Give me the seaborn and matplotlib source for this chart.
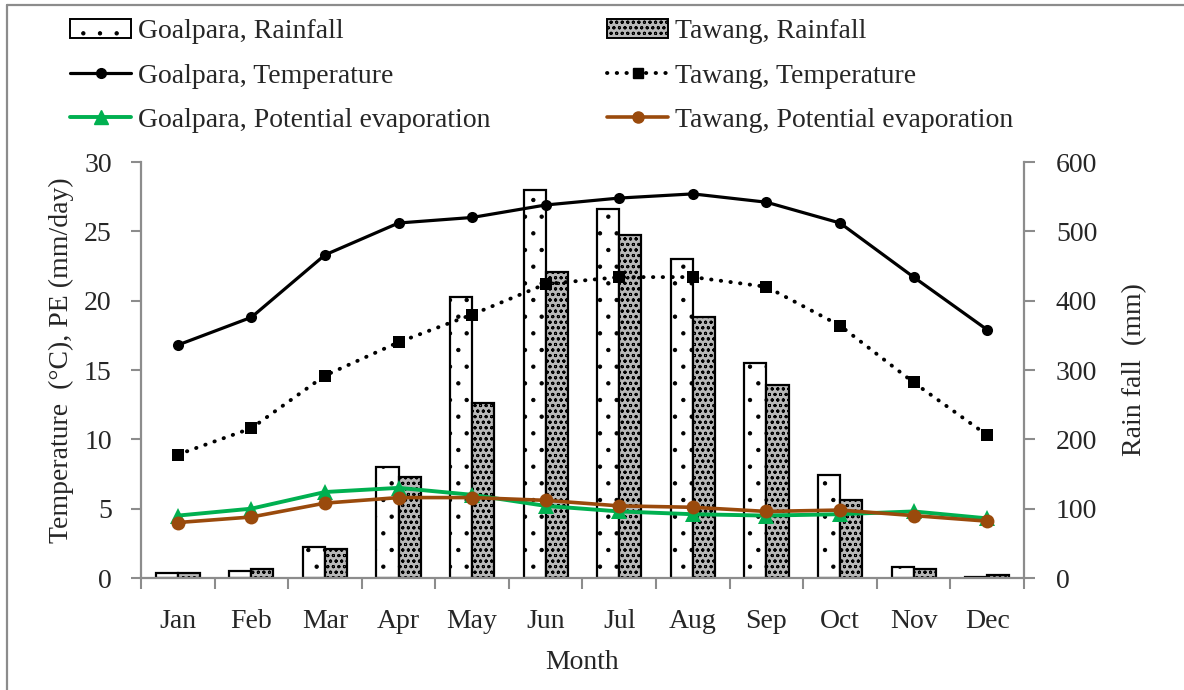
import numpy as np
import pandas as pd
import matplotlib
matplotlib.use("Agg")
import matplotlib.pyplot as plt
from matplotlib.patches import Patch
from matplotlib.lines import Line2D
from matplotlib.ticker import FixedLocator, NullFormatter
import seaborn as sns

# Monthly climate data
months = ["Jan", "Feb", "Mar", "Apr", "May", "Jun",
          "Jul", "Aug", "Sep", "Oct", "Nov", "Dec"]
goalpara_rain = [7, 10, 45, 160, 405, 560, 532, 460, 310, 149, 16, 2]
tawang_rain = [7, 13, 42, 146, 252, 442, 494, 376, 278, 112, 13, 4]
goalpara_temp = [16.8, 18.8, 23.3, 25.6, 26.0, 26.9, 27.4, 27.7, 27.1, 25.6, 21.7, 17.9]
tawang_temp = [8.9, 10.8, 14.6, 17.0, 19.0, 21.2, 21.7, 21.7, 21.0, 18.2, 14.1, 10.3]
goalpara_pe = [4.5, 5.0, 6.2, 6.5, 6.0, 5.2, 4.8, 4.6, 4.5, 4.6, 4.8, 4.3]
tawang_pe = [4.0, 4.4, 5.4, 5.8, 5.8, 5.6, 5.2, 5.1, 4.8, 4.9, 4.5, 4.1]
stations = ["Goalpara", "Tawang"]

sns.set_theme(style="white")
plt.rcParams["font.family"] = ["Liberation Serif", "DejaVu Serif"]
plt.rcParams["hatch.linewidth"] = 0.7

W, H = 1184, 690
fig = plt.figure(figsize=(W / 100, H / 100), dpi=100)
fig.patch.set_facecolor("white")

ax_t = fig.add_axes([141 / W, 1 - 578 / H, (1024 - 141) / W, (578 - 162) / H])
ax_r = ax_t.twinx()
ax_t.set_zorder(ax_r.get_zorder() + 1)
ax_t.patch.set_visible(False)

AX_GRAY = "#8c8c8c"
FS = 20
TAWANG_FILL = "#b8b8b8"
TAWANG_HATCH = "ooo"

# Rainfall bars on the right axis
rain_df = pd.DataFrame({
    "Month": months * 2,
    "Station": [stations[0]] * 12 + [stations[1]] * 12,
    "Rainfall": goalpara_rain + tawang_rain,
})
sns.barplot(data=rain_df, x="Month", y="Rainfall", hue="Station", ax=ax_r,
            width=0.6, gap=0, palette=["white", TAWANG_FILL], saturation=1,
            edgecolor="black", linewidth=1.6, legend=False, errorbar=None)
hatches = [".", TAWANG_HATCH]
for cont, hat in zip(ax_r.containers, hatches):
    for bar in cont:
        bar.set_hatch(hat)

x = np.arange(len(months))
dots = (0, (0.1, 2.4))
sns.lineplot(x=x, y=goalpara_temp, ax=ax_t, color="black", linewidth=2.3,
             marker="o", markersize=8, markeredgewidth=0)
sns.lineplot(x=x, y=tawang_temp, ax=ax_t, color="black", linewidth=2.8,
             linestyle=dots, dash_capstyle="round", marker="s", markersize=8,
             markeredgewidth=0)
sns.lineplot(x=x, y=goalpara_pe, ax=ax_t, color="#00b050", linewidth=2.8,
             marker="^", markersize=11, markeredgewidth=0)
sns.lineplot(x=x, y=tawang_pe, ax=ax_t, color="#9a4a0c", linewidth=2.6,
             marker="o", markersize=10, markeredgewidth=0)

# Axis limits and ticks
ax_t.set_xlim(-0.5, 11.5)
ax_t.set_ylim(0, 30)
ax_r.set_ylim(0, 600)
ax_t.set_yticks(np.arange(0, 31, 5))
ax_r.set_yticks(np.arange(0, 601, 100))
ax_t.set_xticks(x)
ax_t.set_xticklabels(months)
ax_t.xaxis.set_minor_locator(FixedLocator(np.arange(-0.5, 12, 1)))
ax_t.xaxis.set_minor_formatter(NullFormatter())
ax_t.tick_params(axis="x", which="major", length=0, pad=22, labelsize=FS)
ax_t.tick_params(axis="x", which="minor", length=8, width=1.5, color=AX_GRAY,
                 direction="out", bottom=True)
ax_t.tick_params(axis="y", length=7, width=1.5, color=AX_GRAY, pad=14,
                 labelsize=FS, direction="out", left=True)
ax_r.tick_params(axis="y", length=8, width=1.5, color=AX_GRAY, pad=15,
                 labelsize=FS, direction="out", right=True)
ax_r.tick_params(axis="x", length=0)

for s in ["top", "right"]:
    ax_t.spines[s].set_visible(False)
for s in ["top", "left", "bottom"]:
    ax_r.spines[s].set_visible(False)
for sp in [ax_t.spines["left"], ax_t.spines["bottom"], ax_r.spines["right"]]:
    sp.set_color(AX_GRAY)
    sp.set_linewidth(1.6)

ax_r.set_xlabel("")
ax_t.set_xlabel("Month", fontsize=FS, labelpad=12)
ax_t.set_ylabel("Temperature  (°C), PE (mm/day)", fontsize=FS)
ax_t.yaxis.set_label_coords(-0.076, 0.524)
ax_r.set_ylabel("Rain fall  (mm)", fontsize=FS, labelpad=18)

# Legend
handles = [
    Patch(facecolor="white", edgecolor="black", hatch=".", linewidth=1.4),
    Line2D([], [], color="black", lw=2.3, marker="o", markersize=7),
    Line2D([], [], color="#00b050", lw=2.8, marker="^", markersize=10),
    Patch(facecolor=TAWANG_FILL, edgecolor="black", hatch=TAWANG_HATCH,
          linewidth=1.4),
    Line2D([], [], color="black", lw=2.8, linestyle=dots, dash_capstyle="round",
           marker="s", markersize=7),
    Line2D([], [], color="#9a4a0c", lw=2.6, marker="o", markersize=8),
]
labels = ["Goalpara, Rainfall", "Goalpara, Temperature",
          "Goalpara, Potential evaporation", "Tawang, Rainfall",
          "Tawang, Temperature", "Tawang, Potential evaporation"]
fig.legend(handles, labels, ncol=2, loc="upper left",
           bbox_to_anchor=(70 / W, 1 - 19 / H), frameon=False, fontsize=FS,
           handlelength=2.2, handletextpad=0.25, columnspacing=4.2,
           labelspacing=0.68, borderpad=0, borderaxespad=0)

# Chart-area frame (left and top edges)
fig.add_artist(Line2D([7 / W, 7 / W], [0, 1 - 5 / H], color=AX_GRAY, lw=1.6,
                      transform=fig.transFigure))
fig.add_artist(Line2D([7 / W, 1], [1 - 5 / H, 1 - 5 / H], color=AX_GRAY, lw=1.6,
                      transform=fig.transFigure))

fig.savefig("out.png", dpi=100, facecolor="white")
